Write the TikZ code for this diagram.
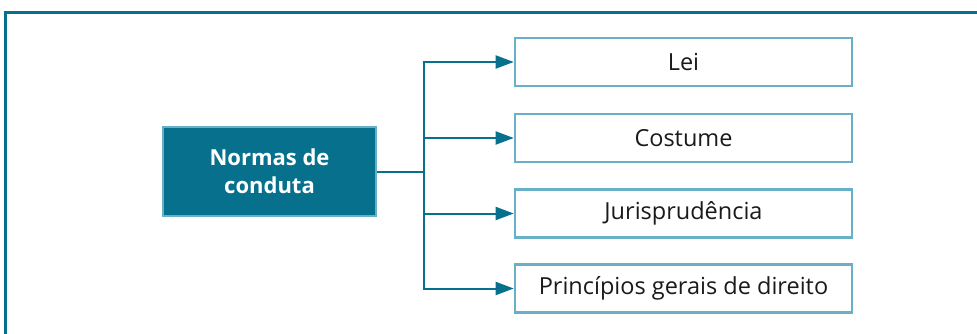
\documentclass[tikz,border=0pt]{standalone}
\usepackage{fontspec}
\setmainfont{Open Sans}
\usetikzlibrary{arrows.meta}
\definecolor{teal}{HTML}{06708D}
\definecolor{lightedge}{HTML}{68AFC8}
\definecolor{textdark}{HTML}{1A1A1A}
\tikzset{
  frameline/.style={draw=teal, line width=2.8pt},
  mainbox/.style={draw=lightedge, fill=teal, line width=2.4pt, minimum width=213pt, minimum height=89pt,
    text=white, font=\fontsize{22}{28}\selectfont\bfseries, align=center, inner sep=0pt},
  itembox/.style={draw=lightedge, fill=white, line width=2.6pt, minimum width=337pt, minimum height=48pt,
    text=textdark, font=\fontsize{23.5}{28}\selectfont, inner sep=0pt},
  conn/.style={draw=teal, line width=2pt},
  arr/.style={conn, -{Triangle[length=18pt, width=13pt]}}
}
\begin{document}
\begin{tikzpicture}[x=1pt, y=-1pt]
  \useasboundingbox (0,0) rectangle (977,334);
  % open outer frame
  \draw[frameline] (5.5,340) -- (5.5,12.5) -- (985,12.5);
  % source node
  \node[mainbox] (main) at (269.5,171.5) {Normas de\\conduta};
  % target nodes
  \node[itembox] (b1) at (683.5,62) {Lei};
  \node[itembox] (b2) at (683.5,138) {Costume};
  \node[itembox] (b3) at (683.5,213.5) {Jurisprudência};
  \node[itembox] (b4) at (683.5,288.5) {Princípios gerais de direito};
  % branching connectors
  \coordinate (fork) at (424,172);
  \draw[conn] (main.east |- fork) -- (fork);
  \foreach \b in {b1,b2,b3,b4}
    \draw[arr] (fork) |- (\b.west);
\end{tikzpicture}
\end{document}
